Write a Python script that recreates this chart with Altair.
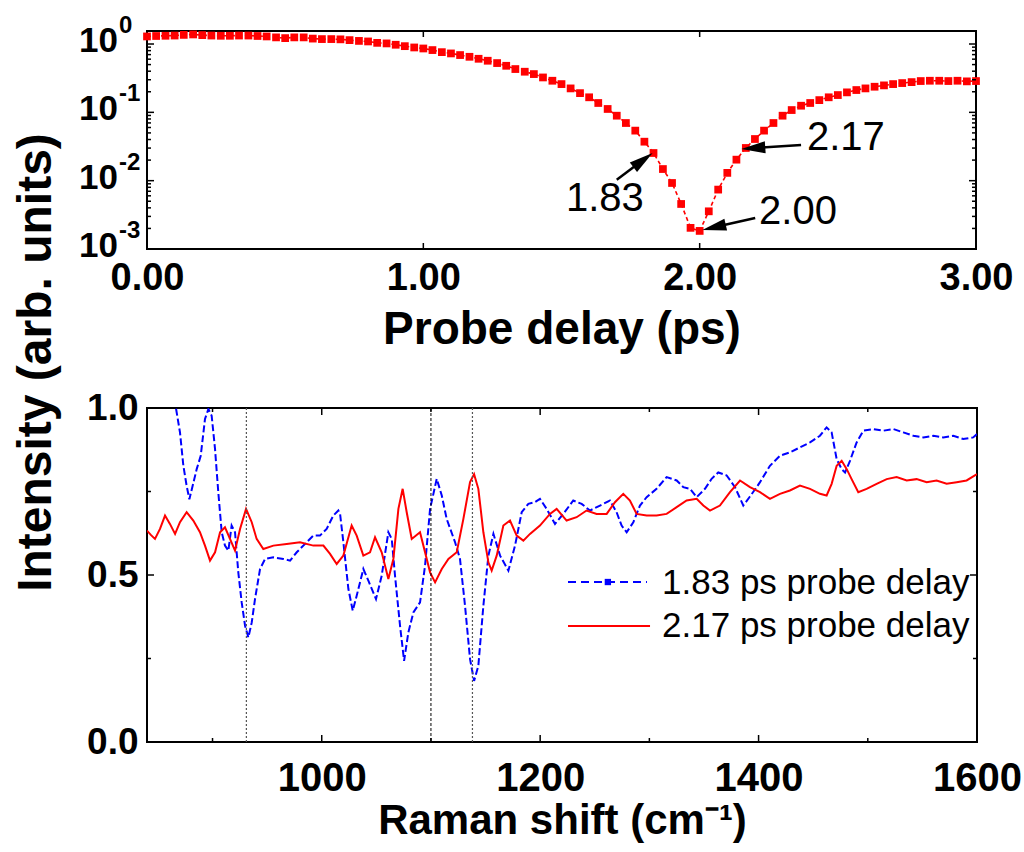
import altair as alt
import pandas as pd

# ---------------- data: top panel (probe delay scan) ----------------
delay_ps = [
    0.000, 0.033, 0.067, 0.100, 0.133, 0.167, 0.200, 0.233, 0.267, 0.300,
    0.333, 0.367, 0.400, 0.433, 0.467, 0.500, 0.533, 0.567, 0.600, 0.633,
    0.667, 0.700, 0.733, 0.767, 0.800, 0.833, 0.867, 0.900, 0.933, 0.967,
    1.000, 1.033, 1.067, 1.100, 1.133, 1.167, 1.200, 1.233, 1.267, 1.300,
    1.333, 1.367, 1.400, 1.433, 1.467, 1.500, 1.533, 1.567, 1.600, 1.633,
    1.667, 1.700, 1.733, 1.767, 1.800, 1.833, 1.867, 1.900, 1.933, 1.967,
    2.000, 2.033, 2.067, 2.100, 2.133, 2.167, 2.200, 2.233, 2.267, 2.300,
    2.333, 2.367, 2.400, 2.433, 2.467, 2.500, 2.533, 2.567, 2.600, 2.633,
    2.667, 2.700, 2.733, 2.767, 2.800, 2.833, 2.867, 2.900, 2.933, 2.967,
    3.000,
]
delay_intensity = [
    1.29, 1.31, 1.32, 1.33, 1.36, 1.38, 1.35, 1.33, 1.32, 1.32,
    1.33, 1.33, 1.31, 1.29, 1.25, 1.22, 1.25, 1.25, 1.20, 1.18,
    1.18, 1.17, 1.14, 1.11, 1.09, 1.04, 1.02, 0.975, 0.93, 0.89,
    0.86, 0.815, 0.76, 0.728, 0.689, 0.650, 0.608, 0.569, 0.526, 0.480,
    0.430, 0.393, 0.363, 0.324, 0.290, 0.259, 0.224, 0.191, 0.166, 0.137,
    0.112, 0.0893, 0.0698, 0.0540, 0.0372, 0.0254, 0.0148, 0.00925, 0.00456, 0.00204,
    0.00184, 0.00356, 0.00740, 0.0130, 0.0203, 0.0301, 0.0407, 0.0540, 0.0698, 0.0893,
    0.108, 0.125, 0.137, 0.151, 0.166, 0.179, 0.196, 0.212, 0.224, 0.237,
    0.248, 0.259, 0.268, 0.277, 0.287, 0.290, 0.290, 0.287, 0.290, 0.284,
    0.287,
]
top_x_ticks = [0.0, 1.0, 2.0, 3.0]
decade_values = [1.0, 0.1, 0.01, 0.001]
decade_exponents = ["0", "-1", "-2", "-3"]
minor_log_ticks = [0.002, 0.003, 0.004, 0.005, 0.006, 0.007, 0.008, 0.009,
                   0.02, 0.03, 0.04, 0.05, 0.06, 0.07, 0.08, 0.09,
                   0.2, 0.3, 0.4, 0.5, 0.6, 0.7, 0.8, 0.9]

# annotations (data coordinates)
ann_labels = ["1.83", "2.17", "2.00"]
ann_text_x = [1.657, 2.529, 2.356]
ann_text_y = [0.0054, 0.042, 0.00348]
arrow_tail_x = [1.700, 2.367, 2.201]
arrow_tail_y = [0.0103, 0.0333, 0.00285]
arrow_head_x = [1.795, 2.194, 2.052]
arrow_head_y = [0.0200, 0.0299, 0.00208]
arrow_angle = [53, 266, 257]

# ---------------- data: bottom panel (Raman spectra) ----------------
blue_shift = [
    850, 858, 863, 866.5, 870.2, 873.3, 876.3, 878.8, 881.8, 885.5, 889.2, 893.1,
    896.2, 899.2, 902.3, 905.3, 908.4, 911.4, 914.5, 917.5, 920.6, 923.6,
    926.7, 929.8, 932.8, 935.9, 938.9, 943.5, 948.1, 955.7, 964.9, 971.0,
    977.1, 986.2, 992.3, 998.4, 1004.5, 1010.6, 1015.2, 1016.8, 1019.8,
    1024.4, 1028.4, 1032.0, 1038.1, 1042.7, 1049.7, 1054.9, 1061.0, 1064.1,
    1067.1, 1071.7, 1075.4, 1079.3, 1083.9, 1090.0, 1094.6, 1099.2, 1105.3,
    1109.9, 1114.4, 1122.1, 1126.6, 1131.2, 1135.8, 1139.5, 1143.4, 1148.0,
    1152.6, 1157.2, 1163.3, 1170.9, 1177.0, 1183.1, 1189.2, 1195.2, 1199.8,
    1205.9, 1213.6, 1221.2, 1230.3, 1238.0, 1245.6, 1254.8, 1263.9, 1270.0,
    1274.6, 1279.2, 1285.3, 1291.4, 1297.5, 1306.6, 1315.8, 1325.0, 1331.1,
    1337.2, 1343.3, 1350.9, 1357.0, 1363.1, 1370.8, 1378.4, 1386.0, 1392.1,
    1398.2, 1401.3, 1410.4, 1419.6, 1428.7, 1437.9, 1447.1, 1456.2, 1462.3,
    1466.9, 1471.5, 1476.1, 1479.2, 1483.7, 1489.8, 1495.9, 1505.0, 1514.2,
    1523.4, 1532.5, 1541.7, 1550.8, 1560.0, 1569.1, 1578.3, 1587.4, 1596.5,
    1600.0,
]
blue_intensity = [
    1.20, 1.12, 1.05, 1.00, 0.927, 0.827, 0.767, 0.727, 0.767, 0.817, 0.857, 0.967,
    0.997, 0.977, 0.877, 0.747, 0.628, 0.588, 0.573, 0.648, 0.628, 0.508,
    0.418, 0.348, 0.313, 0.358, 0.428, 0.518, 0.548, 0.553, 0.548, 0.543,
    0.568, 0.598, 0.618, 0.618, 0.638, 0.678, 0.693, 0.683, 0.598,
    0.458, 0.393, 0.438, 0.518, 0.483, 0.428, 0.498, 0.628, 0.608,
    0.498, 0.348, 0.243, 0.328, 0.388, 0.418, 0.528, 0.698, 0.788,
    0.738, 0.668, 0.598, 0.548, 0.408, 0.248, 0.183, 0.228, 0.408,
    0.558, 0.623, 0.558, 0.513, 0.588, 0.688, 0.713, 0.718, 0.728,
    0.698, 0.653, 0.683, 0.723, 0.713, 0.693, 0.708, 0.723, 0.688,
    0.648, 0.628, 0.658, 0.708, 0.733, 0.758, 0.793, 0.783, 0.763,
    0.758, 0.733, 0.758, 0.788, 0.807, 0.798, 0.763, 0.708, 0.735,
    0.763, 0.778, 0.827, 0.857, 0.867, 0.882, 0.897, 0.917, 0.942,
    0.927, 0.847, 0.817, 0.807, 0.842, 0.897, 0.932, 0.937, 0.932,
    0.937, 0.927, 0.917, 0.912, 0.917, 0.912, 0.917, 0.907, 0.912,
    0.922,
]
red_shift = [
    840.0, 843.5, 847.3, 851.9, 856.5, 861.0, 865.7, 870.2, 876.3, 882.4,
    888.5, 893.1, 897.7, 902.3, 906.9, 911.4, 916.0, 920.6, 925.2, 930.7,
    935.9, 940.4, 946.5, 955.7, 967.9, 980.1, 992.3, 1001.5, 1007.6, 1013.7,
    1019.8, 1027.4, 1032.0, 1038.1, 1044.2, 1048.8, 1054.9, 1061.0, 1065.6,
    1070.2, 1074.1, 1077.8, 1082.4, 1090.0, 1094.6, 1099.2, 1103.8, 1109.9,
    1116.0, 1123.6, 1129.7, 1135.8, 1139.5, 1143.4, 1148.0, 1152.6, 1155.6,
    1160.2, 1166.3, 1172.4, 1178.5, 1184.6, 1190.7, 1199.8, 1209.0, 1215.1,
    1224.2, 1233.4, 1242.5, 1251.7, 1260.9, 1268.5, 1276.1, 1282.2, 1288.3,
    1297.5, 1306.6, 1315.8, 1325.0, 1334.1, 1343.3, 1349.4, 1355.5, 1364.6,
    1373.8, 1383.0, 1392.1, 1401.3, 1410.4, 1419.6, 1428.7, 1437.9, 1447.1,
    1456.2, 1462.3, 1466.9, 1471.5, 1476.1, 1480.7, 1485.2, 1491.3, 1498.9,
    1508.1, 1517.3, 1526.4, 1535.6, 1544.7, 1553.9, 1563.0, 1572.2, 1581.4,
    1590.5, 1600.0,
]
red_intensity = [
    0.633, 0.620, 0.608, 0.638, 0.678, 0.653, 0.623, 0.658, 0.688, 0.663,
    0.628, 0.588, 0.543, 0.568, 0.628, 0.643, 0.608, 0.573, 0.638, 0.698,
    0.658, 0.608, 0.578, 0.588, 0.593, 0.598, 0.588, 0.588, 0.563, 0.533,
    0.558, 0.648, 0.618, 0.558, 0.568, 0.613, 0.568, 0.488, 0.548,
    0.698, 0.758, 0.688, 0.608, 0.628, 0.568, 0.508, 0.478, 0.518,
    0.548, 0.568, 0.668, 0.778, 0.802, 0.758, 0.628, 0.538, 0.513,
    0.558, 0.648, 0.663, 0.618, 0.603, 0.623, 0.648, 0.683, 0.698,
    0.663, 0.673, 0.693, 0.683, 0.683, 0.718, 0.743, 0.723, 0.683,
    0.678, 0.678, 0.683, 0.703, 0.723, 0.728, 0.708, 0.693, 0.708,
    0.748, 0.783, 0.763, 0.748, 0.728, 0.743, 0.753, 0.768, 0.758,
    0.743, 0.738, 0.773, 0.827, 0.842, 0.817, 0.787, 0.748, 0.758,
    0.773, 0.787, 0.793, 0.783, 0.787, 0.778, 0.783, 0.773, 0.778,
    0.783, 0.802,
]
bottom_x_major = [1000, 1200, 1400]
bottom_x_minor = [900, 1100, 1300, 1500]
bottom_x_labels = [1000, 1200, 1400, 1600]
bottom_y_labels = [0.0, 0.5, 1.0]
bottom_y_minor = [0.25, 0.75]
marker_lines_dotted = [931, 1138]
marker_lines_dashed = [1100]
legend_labels = ["1.83 ps probe delay", "2.17 ps probe delay"]

# ---------------- style ----------------
LS = "Liberation Sans, Arial, sans-serif"
W1, H1 = 829, 218
W2, H2 = 830, 334

xs1 = alt.Scale(domain=[0, 3], nice=False, zero=False)
ys1 = alt.Scale(type="log", domain=[0.001, 1.55], nice=False)
xs2 = alt.Scale(domain=[840, 1600], nice=False, zero=False)
ys2 = alt.Scale(domain=[0, 1], nice=False, zero=False)


def tick_layers_x(vals, scale, H, L):
    d = pd.DataFrame({"x": vals})
    c = alt.Chart(d)
    return [
        c.mark_rule(color="black", strokeWidth=1.5).encode(
            x=alt.X("x:Q", scale=scale), y=alt.value(H), y2=alt.value(H - L)),
        c.mark_rule(color="black", strokeWidth=1.5).encode(
            x=alt.X("x:Q", scale=scale), y=alt.value(0), y2=alt.value(L)),
    ]


def tick_layers_y(vals, scale, W, L):
    d = pd.DataFrame({"y": vals})
    c = alt.Chart(d)
    return [
        c.mark_rule(color="black", strokeWidth=1.5).encode(
            y=alt.Y("y:Q", scale=scale), x=alt.value(0), x2=alt.value(L)),
        c.mark_rule(color="black", strokeWidth=1.5).encode(
            y=alt.Y("y:Q", scale=scale), x=alt.value(W), x2=alt.value(W - L)),
    ]


# ---------------- top panel ----------------
top_df = pd.DataFrame({"x": delay_ps, "y": delay_intensity})

x_axis_top = alt.Axis(
    values=top_x_ticks, format=".2f", labelFont=LS, labelFontSize=38,
    labelFontWeight="bold", labelColor="black", labelPadding=10, labelFlush=False,
    labelOverlap=False, ticks=False, tickSize=0, domain=False, grid=False,
    title="Probe delay (ps)", titleFont=LS, titleFontSize=46, titleFontWeight="bold",
    titleColor="black", titlePadding=10)
y_axis_top = alt.Axis(
    labels=False, ticks=False, tickSize=0, domain=False, grid=False,
    title="Intensity (arb. units)", titleFont=LS, titleFontSize=48,
    titleFontWeight="bold", titleColor="black", titleAngle=270,
    titleAlign="center", titleBaseline="alphabetic", titleX=-97, titleY=331)

top_line = alt.Chart(top_df).mark_line(
    color="red", strokeWidth=1.6, strokeDash=[4, 3]).encode(
    x=alt.X("x:Q", scale=xs1, axis=x_axis_top),
    y=alt.Y("y:Q", scale=ys1, axis=y_axis_top))
top_pts = alt.Chart(top_df).mark_square(size=60, color="red", opacity=1).encode(
    x=alt.X("x:Q", scale=xs1), y=alt.Y("y:Q", scale=ys1))

ylab_df = pd.DataFrame({"y": decade_values, "base": ["10"] * 4, "exp": decade_exponents})
ylab_base = alt.Chart(ylab_df).mark_text(
    align="right", baseline="middle", dx=-29, dy=-3, font=LS, fontSize=35,
    fontWeight="bold", color="black").encode(
    x=alt.value(0), y=alt.Y("y:Q", scale=ys1), text="base:N")
ylab_exp = alt.Chart(ylab_df).mark_text(
    align="left", baseline="middle", dx=-28, dy=-18, font=LS, fontSize=24,
    fontWeight="bold", color="black").encode(
    x=alt.value(0), y=alt.Y("y:Q", scale=ys1), text="exp:N")

arrow_df = pd.DataFrame({
    "x": arrow_tail_x, "y": arrow_tail_y, "x2": arrow_head_x, "y2": arrow_head_y,
    "angle": arrow_angle, "tx": ann_text_x, "ty": ann_text_y, "label": ann_labels})
shafts = alt.Chart(arrow_df).mark_rule(color="black", strokeWidth=2.5).encode(
    x=alt.X("x:Q", scale=xs1), y=alt.Y("y:Q", scale=ys1), x2="x2:Q", y2="y2:Q")
heads = alt.Chart(arrow_df).mark_point(
    shape="M0,-1L0.5,1L-0.5,1Z", filled=True, color="black", opacity=1, size=576).encode(
    x=alt.X("x2:Q", scale=xs1), y=alt.Y("y2:Q", scale=ys1), angle=alt.Angle("angle:Q", scale=None))
ann_text = alt.Chart(arrow_df).mark_text(
    align="center", baseline="middle", font=LS, fontSize=40, color="black").encode(
    x=alt.X("tx:Q", scale=xs1), y=alt.Y("ty:Q", scale=ys1), text="label:N")

top_layers = [top_line, top_pts, ylab_base, ylab_exp, shafts, heads, ann_text]
top_layers += tick_layers_x([1.0, 2.0], xs1, H1, 6)
top_layers += tick_layers_y(decade_values, ys1, W1, 7)
top_layers += tick_layers_y(minor_log_ticks, ys1, W1, 4)
top = alt.layer(*top_layers).properties(width=W1, height=H1)

# ---------------- bottom panel ----------------
blue_df = pd.DataFrame({"x": blue_shift, "y": blue_intensity})
red_df = pd.DataFrame({"x": red_shift, "y": red_intensity})

x_axis_bot = alt.Axis(
    values=bottom_x_labels, format="d", labelFont=LS, labelFontSize=40,
    labelFontWeight="bold", labelColor="black", labelPadding=16, labelFlush=False,
    labelOverlap=False, ticks=False, tickSize=0, domain=False, grid=False,
    title="Raman shift (cm\u207b\u00b9)", titleFont=LS, titleFontSize=42,
    titleFontWeight="bold", titleColor="black", titlePadding=2)
y_axis_bot = alt.Axis(
    values=bottom_y_labels, format=".1f", labelFont=LS, labelFontSize=37,
    labelFontWeight="bold", labelColor="black", labelPadding=9,
    ticks=False, tickSize=0, domain=False, grid=False, title="")

dotted = alt.Chart(pd.DataFrame({"x": marker_lines_dotted})).mark_rule(
    color="#555555", strokeWidth=1.2, strokeDash=[2, 2]).encode(
    x=alt.X("x:Q", scale=xs2, axis=x_axis_bot))
dashed = alt.Chart(pd.DataFrame({"x": marker_lines_dashed})).mark_rule(
    color="black", strokeWidth=1, strokeDash=[3, 2]).encode(
    x=alt.X("x:Q", scale=xs2))
blue_line = alt.Chart(blue_df).mark_line(
    color="#0000ff", strokeWidth=2, strokeDash=[7, 3], clip=True).encode(
    x=alt.X("x:Q", scale=xs2, axis=x_axis_bot),
    y=alt.Y("y:Q", scale=ys2, axis=y_axis_bot))
red_line = alt.Chart(red_df).mark_line(
    color="#ff0000", strokeWidth=2, clip=True).encode(
    x=alt.X("x:Q", scale=xs2), y=alt.Y("y:Q", scale=ys2))

leg_df = pd.DataFrame({
    "x": [1225.5, 1225.5], "x2": [1297.8, 1300.6], "y": [0.479, 0.347],
    "tx": [1311.6, 1311.6], "ty": [0.443, 0.314], "label": legend_labels})
leg_blue = alt.Chart(leg_df.iloc[[0]]).mark_rule(
    color="#0000ff", strokeWidth=2, strokeDash=[8, 5]).encode(
    x=alt.X("x:Q", scale=xs2), x2="x2:Q", y=alt.Y("y:Q", scale=ys2))
leg_blue_pt = alt.Chart(pd.DataFrame({"x": [1262.0], "y": [0.479]})).mark_square(
    size=40, color="#0000ff", opacity=1).encode(
    x=alt.X("x:Q", scale=xs2), y=alt.Y("y:Q", scale=ys2))
leg_red = alt.Chart(leg_df.iloc[[1]]).mark_rule(
    color="#ff0000", strokeWidth=2).encode(
    x=alt.X("x:Q", scale=xs2), x2="x2:Q", y=alt.Y("y:Q", scale=ys2))
leg_text = alt.Chart(leg_df).mark_text(
    align="left", baseline="alphabetic", font=LS, fontSize=35, color="black").encode(
    x=alt.X("tx:Q", scale=xs2), y=alt.Y("ty:Q", scale=ys2), text="label:N")

bot_layers = [blue_line, red_line, dotted, dashed, leg_blue, leg_blue_pt, leg_red, leg_text]
bot_layers += tick_layers_x(bottom_x_major, xs2, H2, 7)
bot_layers += tick_layers_x(bottom_x_minor, xs2, H2, 4)
bot_layers += tick_layers_y([0.5], ys2, W2, 7)
bot_layers += tick_layers_y(bottom_y_minor, ys2, W2, 4)
bottom = alt.layer(*bot_layers).properties(width=W2, height=H2)

chart = alt.vconcat(top, bottom, spacing=159, bounds="flush").properties(
    padding={"left": 11, "top": 13, "right": 0, "bottom": 2},
    background="white",
).configure_view(stroke="black", strokeWidth=2)

chart.save("out.html", embed_options={"renderer": "svg", "actions": False})
